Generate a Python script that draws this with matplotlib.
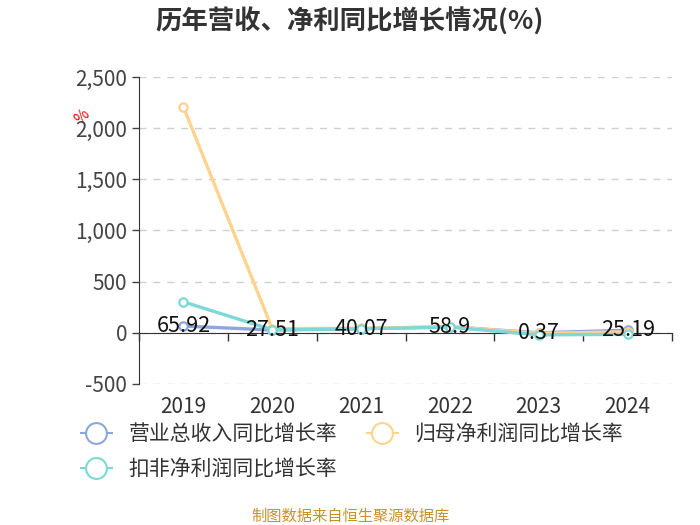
import numpy as np
import matplotlib
matplotlib.use("Agg")
import matplotlib.pyplot as plt
import matplotlib.transforms as mtransforms
from matplotlib.lines import Line2D

plt.rcParams['font.family'] = ['Noto Sans CJK SC', 'DejaVu Sans']

years = ['2019', '2020', '2021', '2022', '2023', '2024']
revenue = [65.92, 27.51, 40.07, 58.9, 0.37, 25.19]
net_profit = [2207, 40, 45, 60, -5, 10]
net_profit_ex = [303, 30, 40, 55, -20, -15]

names = ['营业总收入同比增长率', '归母净利润同比增长率', '扣非净利润同比增长率']
colors = ['#8ea6db', '#fdd38e', '#7dd8d8']

yticks = [-500, 0, 500, 1000, 1500, 2000, 2500]

fig = plt.figure(figsize=(7, 5.25), dpi=100)
ax = fig.add_axes([139 / 700, 1 - 384 / 525, 533 / 700, 307 / 525])

x = np.arange(len(years))
series = [revenue, net_profit, net_profit_ex]
for vals, c in zip(series, colors):
    ax.plot(x, vals, color=c, lw=2.4, marker='o', markersize=6,
            markerfacecolor='white', markeredgecolor=c, markeredgewidth=1.6,
            zorder=3)

for xi, v in zip(x, revenue):
    ax.text(xi, v, f'{v:g}', ha='center', va='center', fontsize=15.5,
            color='#111111', zorder=4)

ax.set_xlim(-0.5, len(years) - 0.5)
ax.set_ylim(-500, 2500)
ax.set_yticks(yticks)
ax.set_yticklabels([f'{t:,}' for t in yticks])
ax.tick_params(axis='y', labelsize=15, colors='#444444', length=5, width=1)
ax.yaxis.grid(True, linestyle=(0, (5, 5)), color='#d0d0d0', lw=1)
ax.set_axisbelow(True)

# category axis sits on y = 0
ax.spines['bottom'].set_position(('data', 0))
ax.spines['bottom'].set_color('#333333')
ax.spines['left'].set_color('#333333')
ax.spines['top'].set_visible(False)
ax.spines['right'].set_visible(False)
ax.set_xticks(np.arange(-0.5, len(years), 1.0))
ax.tick_params(axis='x', length=6, width=1, color='#333333', labelbottom=False)

trans = mtransforms.blended_transform_factory(ax.transData, ax.transAxes)
for xi, lab in zip(x, years):
    ax.text(xi, -0.075, lab, transform=trans, ha='center', va='center',
            fontsize=15, color='#333333')

fig.text(82 / 700, 1 - 117 / 525, '%', color='red', fontsize=11,
         rotation=45, ha='center', va='center')

fig.text(0.5, 1 - 22 / 525, '历年营收、净利同比增长情况(%)', ha='center',
         va='center', fontsize=19, fontweight='bold', color='#333333')

handles = [Line2D([], [], color=c, lw=1.5, marker='o', markersize=15,
                  markerfacecolor='white', markeredgecolor=c,
                  markeredgewidth=1.5) for c in colors]
order = [0, 2, 1]
leg = fig.legend([handles[i] for i in order], [names[i] for i in order],
                 ncol=2, loc='upper left', bbox_to_anchor=(62 / 700, 1 - 405 / 525),
                 frameon=False, fontsize=15, handlelength=1.5,
                 handletextpad=0.8, columnspacing=1.4, labelspacing=0.6)
for t in leg.get_texts():
    t.set_color('#333333')

fig.text(0.5, 1 - 516 / 525, '制图数据来自恒生聚源数据库', ha='center',
         va='center', fontsize=11, color='#c8922a')

fig.savefig('out.png', dpi=100)
